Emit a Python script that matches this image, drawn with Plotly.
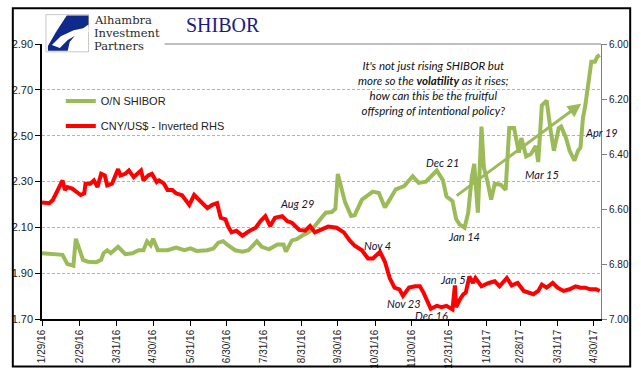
import plotly.graph_objects as go

# ---------------- data ----------------
shibor_dates = [
    "2016-01-29", "2016-02-15", "2016-02-19", "2016-02-24", "2016-02-26", "2016-03-03",
    "2016-03-07", "2016-03-14", "2016-03-18", "2016-03-20", "2016-03-23", "2016-03-26",
    "2016-04-01", "2016-04-07", "2016-04-13", "2016-04-18", "2016-04-22", "2016-04-25",
    "2016-04-28", "2016-04-30", "2016-05-04", "2016-05-12", "2016-05-19", "2016-05-26",
    "2016-05-31", "2016-06-05", "2016-06-14", "2016-06-19", "2016-06-23", "2016-06-27",
    "2016-07-01", "2016-07-07", "2016-07-13", "2016-07-18", "2016-07-25", "2016-07-29",
    "2016-08-04", "2016-08-11", "2016-08-16", "2016-08-18", "2016-08-23", "2016-08-27",
    "2016-09-01", "2016-09-06", "2016-09-09", "2016-09-14", "2016-09-20", "2016-09-25",
    "2016-09-28", "2016-09-30", "2016-10-06", "2016-10-11", "2016-10-14", "2016-10-20",
    "2016-10-26", "2016-10-29", "2016-11-03", "2016-11-08", "2016-11-12", "2016-11-17",
    "2016-11-24", "2016-12-01", "2016-12-06", "2016-12-12", "2016-12-21", "2016-12-26",
    "2016-12-29", "2017-01-03", "2017-01-06", "2017-01-09", "2017-01-13", "2017-01-16",
    "2017-01-19", "2017-01-21", "2017-01-24", "2017-01-27", "2017-01-29", "2017-02-01",
    "2017-02-04", "2017-02-07", "2017-02-12", "2017-02-16", "2017-02-19", "2017-02-23",
    "2017-02-27", "2017-03-01", "2017-03-05", "2017-03-09", "2017-03-13", "2017-03-15",
    "2017-03-18", "2017-03-22", "2017-03-25", "2017-03-28", "2017-04-01", "2017-04-03",
    "2017-04-07", "2017-04-10", "2017-04-14", "2017-04-17", "2017-04-19", "2017-04-21",
    "2017-04-23", "2017-04-26", "2017-04-28", "2017-05-01", "2017-05-03", "2017-05-05",
]
shibor_values = [
    1.987, 1.980, 1.940, 1.933, 2.050, 1.958,
    1.950, 1.948, 1.958, 1.987, 2.000, 1.987,
    2.015, 1.983, 1.987, 2.000, 2.000, 2.039,
    2.022, 2.050, 2.000, 2.000, 2.012, 2.000,
    2.008, 1.997, 2.000, 2.008, 2.033, 2.039,
    2.022, 2.000, 1.994, 2.000, 2.039, 2.015,
    2.004, 2.025, 2.025, 1.994, 2.043, 2.048,
    2.065, 2.079, 2.093, 2.128, 2.164, 2.167,
    2.181, 2.333, 2.210, 2.150, 2.153, 2.221,
    2.242, 2.256, 2.250, 2.187, 2.221, 2.266,
    2.280, 2.323, 2.294, 2.299, 2.348, 2.306,
    2.235, 2.214, 2.136, 2.112, 2.098, 2.164,
    2.320, 2.377, 2.164, 2.540, 2.360, 2.300,
    2.221, 2.290, 2.286, 2.263, 2.533, 2.533,
    2.426, 2.490, 2.410, 2.420, 2.455, 2.385,
    2.632, 2.653, 2.533, 2.434, 2.533, 2.540,
    2.490, 2.434, 2.391, 2.434, 2.448, 2.575,
    2.632, 2.760, 2.823, 2.823, 2.845, 2.852,
]

cny_dates = [
    "2016-01-29", "2016-02-04", "2016-02-07", "2016-02-11", "2016-02-15", "2016-02-17",
    "2016-02-19", "2016-02-23", "2016-03-01", "2016-03-04", "2016-03-05", "2016-03-09",
    "2016-03-12", "2016-03-15", "2016-03-18", "2016-03-21", "2016-03-23", "2016-03-27",
    "2016-04-01", "2016-04-03", "2016-04-07", "2016-04-10", "2016-04-14", "2016-04-20",
    "2016-04-22", "2016-04-26", "2016-04-29", "2016-05-03", "2016-05-05", "2016-05-09",
    "2016-05-12", "2016-05-16", "2016-05-19", "2016-05-24", "2016-05-30", "2016-06-03",
    "2016-06-07", "2016-06-14", "2016-06-18", "2016-06-22", "2016-06-25", "2016-06-29",
    "2016-07-01", "2016-07-04", "2016-07-08", "2016-07-13", "2016-07-19", "2016-07-24",
    "2016-07-28", "2016-08-01", "2016-08-05", "2016-08-09", "2016-08-15", "2016-08-19",
    "2016-08-23", "2016-08-29", "2016-09-03", "2016-09-07", "2016-09-11", "2016-09-17",
    "2016-09-22", "2016-09-29", "2016-10-05", "2016-10-10", "2016-10-14", "2016-10-20",
    "2016-10-25", "2016-10-29", "2016-11-01", "2016-11-04", "2016-11-08", "2016-11-12",
    "2016-11-16", "2016-11-20", "2016-11-23", "2016-11-28", "2016-12-03", "2016-12-07",
    "2016-12-10", "2016-12-14", "2016-12-16", "2016-12-21", "2016-12-25", "2016-12-29",
    "2017-01-03", "2017-01-05", "2017-01-06", "2017-01-09", "2017-01-12", "2017-01-14",
    "2017-01-17", "2017-01-20", "2017-01-22", "2017-01-27", "2017-02-02", "2017-02-07",
    "2017-02-11", "2017-02-17", "2017-02-21", "2017-02-26", "2017-03-03", "2017-03-11",
    "2017-03-15", "2017-03-18", "2017-03-22", "2017-03-27", "2017-03-31", "2017-04-05",
    "2017-04-10", "2017-04-15", "2017-04-19", "2017-04-23", "2017-04-27", "2017-05-02",
    "2017-05-05",
]
cny_values = [
    6.576, 6.579, 6.567, 6.531, 6.496, 6.531,
    6.520, 6.526, 6.549, 6.543, 6.508, 6.508,
    6.496, 6.520, 6.472, 6.478, 6.514, 6.508,
    6.455, 6.478, 6.472, 6.460, 6.484, 6.460,
    6.496, 6.478, 6.472, 6.502, 6.496, 6.508,
    6.531, 6.531, 6.543, 6.550, 6.585, 6.549,
    6.567, 6.597, 6.585, 6.579, 6.632, 6.638,
    6.662, 6.685, 6.679, 6.697, 6.679, 6.668,
    6.644, 6.626, 6.662, 6.632, 6.626, 6.644,
    6.650, 6.676, 6.679, 6.662, 6.685, 6.673,
    6.664, 6.668, 6.685, 6.715, 6.733, 6.750,
    6.780, 6.780, 6.768, 6.756, 6.792, 6.851,
    6.886, 6.892, 6.916, 6.886, 6.881, 6.881,
    6.904, 6.946, 6.963, 6.952, 6.957, 6.952,
    6.965, 6.878, 6.957, 6.930, 6.910, 6.904,
    6.845, 6.869, 6.851, 6.881, 6.869, 6.863,
    6.881, 6.851, 6.878, 6.869, 6.898, 6.910,
    6.898, 6.875, 6.886, 6.869, 6.886, 6.898,
    6.892, 6.881, 6.886, 6.886, 6.892, 6.892,
    6.898,
]

x_tick_dates = [
    "2016-01-29", "2016-02-29", "2016-03-31", "2016-04-30", "2016-05-31", "2016-06-30",
    "2016-07-31", "2016-08-31", "2016-09-30", "2016-10-31", "2016-11-30", "2016-12-31",
    "2017-01-31", "2017-02-28", "2017-03-31", "2017-04-30",
]
x_tick_labels = [
    "1/29/16", "2/29/16", "3/31/16", "4/30/16", "5/31/16", "6/30/16",
    "7/31/16", "8/31/16", "9/30/16", "10/31/16", "11/30/16", "12/31/16",
    "1/31/17", "2/28/17", "3/31/17", "4/30/17",
]
left_ticks = [1.70, 1.90, 2.10, 2.30, 2.50, 2.70, 2.90]
right_ticks = [6.00, 6.20, 6.40, 6.60, 6.80, 7.00]

event_labels = ["Aug 29", "Nov 4", "Dec 21", "Jan 14", "Mar 15", "Apr 19", "Jan 5", "Nov 23", "Dec 16"]

# ---------------- layout helpers ----------------
W, H = 641, 381
ML, MR, MT, MB = 36, 40, 44, 56
PW, PH = W - ML - MR, H - MT - MB


def px(x):
    return (x - ML) / PW


def py(y):
    return (H - MB - y) / PH


def path(points):
    s = "M " + " L ".join(f"{px(a):.5f},{py(b):.5f}" for a, b in points) + " Z"
    return s


GREEN = "#9BBB59"
RED = "#FF0000"
TXT = "#141432"

fig = go.Figure()
fig.add_trace(go.Scatter(
    x=shibor_dates, y=shibor_values, mode="lines", name="O/N SHIBOR",
    line=dict(color=GREEN, width=4), legend="legend", hoverinfo="skip"))
fig.add_trace(go.Scatter(
    x=cny_dates, y=cny_values, mode="lines", name="CNY/US$ - Inverted RHS",
    line=dict(color=RED, width=4), yaxis="y2", legend="legend2", hoverinfo="skip"))

shapes = [
    # white backing under the logo
    dict(type="rect", xref="paper", yref="paper", x0=px(37.5), x1=px(159), y0=py(54), y1=py(11),
         fillcolor="white", line=dict(width=0), layer="above"),
    # top rule
    dict(type="line", xref="paper", yref="paper", x0=px(160), x1=px(601), y0=1, y1=1,
         line=dict(color="#808080", width=1), layer="above"),
    # logo box
    dict(type="rect", xref="paper", yref="paper", x0=px(40), x1=px(83), y0=py(52), y1=py(14),
         fillcolor="white", line=dict(color="#c8c8c8", width=1), layer="above"),
    dict(type="path", xref="paper", yref="paper",
         path=path([(61, 15), (83, 15), (83, 24), (72, 32), (64, 42), (62, 51), (42, 51), (42, 46), (50, 32)]),
         fillcolor="#0f2a8a", line=dict(width=0), layer="above"),
    dict(type="path", xref="paper", yref="paper",
         path=path([(46, 45), (55, 36), (68, 30), (83, 27), (83, 32), (72, 34), (62, 40), (54, 48)]),
         fillcolor="white", line=dict(width=0), layer="above"),
    # outer border
    dict(type="rect", xref="paper", yref="paper", x0=px(6.5), x1=px(630.5), y0=py(373.5), y1=py(7.5),
         fillcolor="rgba(0,0,0,0)", line=dict(color="black", width=2), layer="above"),
]

annotations = []
# logo words
for word, yc in zip(["Alhambra", "Investment", "Partners"], [19.5, 33.0, 46.5]):
    annotations.append(dict(text=word, xref="paper", yref="paper", x=px(87), y=py(yc),
                            xanchor="left", yanchor="middle", showarrow=False,
                            font=dict(family="DejaVu Serif", size=11.5, color="#2a2a2a")))
annotations.append(dict(text="SHIBOR", xref="paper", yref="paper", x=px(180), y=py(25),
                        xanchor="left", yanchor="middle", showarrow=False,
                        font=dict(family="Liberation Serif", size=20, color="#1c1c80")))
annotations.append(dict(
    text="<i>It's not just rising SHIBOR but<br>more so the <b>volatility</b> as it rises;<br>"
         "how can this be the fruitful<br>offspring of intentional policy?</i>",
    xref="paper", yref="paper", x=px(432), y=py(89), xanchor="center", yanchor="middle",
    align="center", showarrow=False, font=dict(family="Lato", size=11.5, color="#111111")))
# arrow
annotations.append(dict(text="", xref="paper", yref="paper", x=px(581), y=py(105),
                        ax=455 - 581, ay=198 - 105, showarrow=True, arrowhead=2, arrowsize=0.9,
                        arrowwidth=3, arrowcolor=GREEN))
label_pos = [(294, 207), (375, 250), (441, 165), (463, 241), (541, 177), (601, 134),
             (451, 285), (402, 309), (430, 321)]
for lab, (lx, ly) in zip(event_labels, label_pos):
    annotations.append(dict(text=f"<i>{lab}</i>", xref="paper", yref="paper", x=px(lx), y=py(ly),
                            xanchor="center", yanchor="middle", showarrow=False,
                            font=dict(family="Lato", size=11, color=TXT)))

fig.update_layout(
    width=W, height=H, margin=dict(l=ML, r=MR, t=MT, b=MB, pad=0),
    paper_bgcolor="white", plot_bgcolor="white",
    font=dict(family="Liberation Sans", size=11, color="#222222"),
    xaxis=dict(type="date", range=["2016-01-29", "2017-05-06"], tickvals=x_tick_dates,
               ticktext=x_tick_labels, tickangle=-90, ticks="outside", ticklen=5,
               tickcolor="black", tickwidth=1, showline=True, linecolor="black", linewidth=1.5,
               showgrid=False, zeroline=False, tickfont=dict(size=10, color="#222222")),
    yaxis=dict(range=[1.70, 2.90], tickvals=left_ticks, tickformat=".2f", ticks="outside",
               ticklen=5, tickcolor="black", showline=True, linecolor="black", linewidth=1.5,
               showgrid=True, gridcolor="#b4b4b4", gridwidth=1, griddash="3px,2px",
               zeroline=False, tickfont=dict(size=11, color="#222222")),
    yaxis2=dict(range=[7.00, 6.00], tickvals=right_ticks, tickformat=".2f", overlaying="y",
                side="right", ticks="outside", ticklen=5, tickcolor="#808080", showline=True,
                linecolor="#808080", linewidth=1, showgrid=False, zeroline=False,
                tickfont=dict(size=10, color="#222222")),
    legend=dict(x=px(55), y=py(87.5), xanchor="left", yanchor="top", bgcolor="rgba(0,0,0,0)",
                itemwidth=30, font=dict(size=11, color="#222222")),
    legend2=dict(x=px(55), y=py(113), xanchor="left", yanchor="top", bgcolor="rgba(0,0,0,0)",
                 itemwidth=30, font=dict(size=11, color="#222222")),
    shapes=shapes, annotations=annotations, showlegend=True,
)

fig.write_html("out.html", config={"displayModeBar": False},
               post_script="document.body.style.margin='0';")
